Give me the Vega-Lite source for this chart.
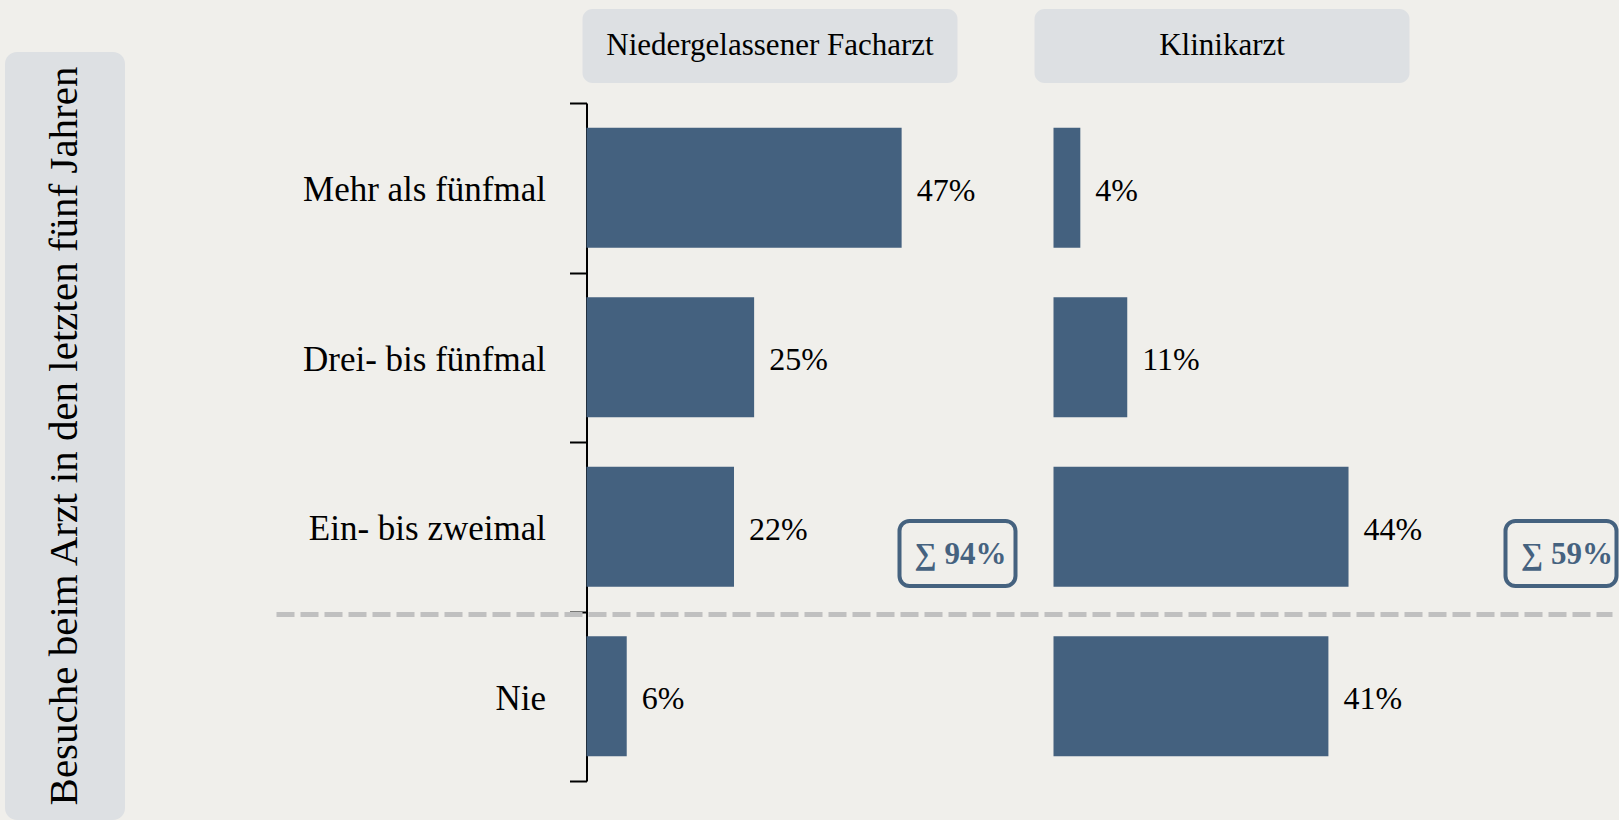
{
  "$schema": "https://vega.github.io/schema/vega-lite/v6.json",
  "background": "#f0efeb",
  "padding": {"left": 5, "top": 9, "right": 1, "bottom": 0},
  "config": {
    "view": {"stroke": null},
    "font": "Liberation Serif",
    "text": {"font": "Liberation Serif", "color": "#000000"}
  },
  "datasets": {
    "visits": [
      {"arzt": "Niedergelassener Facharzt", "cat": "Mehr als fünfmal", "pct": 0.47},
      {"arzt": "Niedergelassener Facharzt", "cat": "Drei- bis fünfmal", "pct": 0.25},
      {"arzt": "Niedergelassener Facharzt", "cat": "Ein- bis zweimal", "pct": 0.22},
      {"arzt": "Niedergelassener Facharzt", "cat": "Nie", "pct": 0.06},
      {"arzt": "Klinikarzt", "cat": "Mehr als fünfmal", "pct": 0.04},
      {"arzt": "Klinikarzt", "cat": "Drei- bis fünfmal", "pct": 0.11},
      {"arzt": "Klinikarzt", "cat": "Ein- bis zweimal", "pct": 0.44},
      {"arzt": "Klinikarzt", "cat": "Nie", "pct": 0.41}
    ]
  },
  "spacing": 148.5,
  "hconcat": [
    {
      "spacing": 20,
      "vconcat": [
        {"width": 120, "height": 23, "data": {"values": [{}]}, "mark": {"type": "text", "text": ""}},
        {
          "width": 120, "height": 768,
          "view": {"fill": "#dde0e3", "cornerRadius": 12, "stroke": null},
          "data": {"values": [{"t": "Besuche beim Arzt in den letzten fünf Jahren"}]},
          "mark": {"type": "text", "angle": 270, "fontSize": 41, "align": "center", "baseline": "middle", "color": "#000000"},
          "encoding": {"text": {"field": "t", "type": "nominal"}}
        }
      ]
    },
    {
      "spacing": 3,
      "vconcat": [
        {
          "spacing": 77,
          "hconcat": [
            {
              "width": 375, "height": 74,
              "view": {"fill": "#dde0e3", "cornerRadius": 10, "stroke": null},
              "data": {"values": [{"h": "Niedergelassener Facharzt"}]},
              "mark": {"type": "text", "fontSize": 31, "color": "#000000", "align": "center", "baseline": "middle"},
              "encoding": {"text": {"field": "h", "type": "nominal"}}
            },
            {
              "width": 375, "height": 74,
              "view": {"fill": "#dde0e3", "cornerRadius": 10, "stroke": null},
              "data": {"values": [{"h": "Klinikarzt"}]},
              "mark": {"type": "text", "fontSize": 31, "color": "#000000", "align": "center", "baseline": "middle"},
              "encoding": {"text": {"field": "h", "type": "nominal"}}
            }
          ]
        },
        {
          "width": 827, "height": 678,
          "data": {"name": "visits"},
          "resolve": {"scale": {"x": "independent"}},
          "encoding": {
            "y": {
              "field": "cat", "type": "nominal",
              "scale": {"domain": ["Mehr als fünfmal", "Drei- bis fünfmal", "Ein- bis zweimal", "Nie"], "paddingInner": 0, "paddingOuter": 0},
              "axis": {
                "title": null, "grid": false, "offset": -4,
                "domainColor": "#000000", "domainWidth": 2,
                "tickColor": "#000000", "tickWidth": 2, "tickSize": 17, "tickBand": "extent",
                "labelFont": "Liberation Serif", "labelFontSize": 35, "labelColor": "#000000",
                "labelPadding": 24, "labelLimit": 500, "labelOffset": 2
              }
            }
          },
          "layer": [
            {
              "transform": [{"filter": "datum.arzt === 'Niedergelassener Facharzt'"}],
              "layer": [
                {
                  "transform": [{"filter": "datum.cat === 'Nie'"}],
                  "mark": {"type": "rule", "color": "#c0c0c0", "strokeWidth": 5, "strokeDash": [18, 6]},
                  "encoding": {
                    "x": {"datum": -0.46234, "type": "quantitative", "axis": null},
                    "x2": {"datum": 1.5302},
                    "y": {"field": "cat", "type": "nominal", "bandPosition": 0.018}
                  }
                },
                {
                  "mark": {"type": "bar", "height": {"band": 0.708}, "color": "#44617f"},
                  "encoding": {
                    "x": {"field": "pct", "type": "quantitative", "scale": {"domain": [-0.005966, 1.227442], "nice": false, "zero": false}, "axis": null}
                  }
                },
                {
                  "mark": {"type": "text", "align": "left", "baseline": "middle", "dx": 15, "dy": 3, "fontSize": 32},
                  "encoding": {
                    "x": {"field": "pct", "type": "quantitative", "axis": null},
                    "text": {"field": "pct", "type": "quantitative", "format": ".0%"}
                  }
                },
                {
                  "transform": [
                    {"filter": "datum.cat !== 'Nie'"},
                    {"aggregate": [{"op": "sum", "field": "pct", "as": "total"}]},
                    {"calculate": "'∑ ' + format(datum.total, '.0%')", "as": "label"}
                  ],
                  "layer": [
                    {
                      "mark": {"type": "bar", "filled": false, "color": "#45627f", "strokeWidth": 4, "cornerRadius": 10, "height": {"band": 0.3835}, "yOffset": 26.75},
                      "encoding": {
                        "x": {"datum": 0.46682, "type": "quantitative", "axis": null},
                        "x2": {"datum": 0.63982},
                        "y": {"datum": "Ein- bis zweimal", "type": "nominal"}
                      }
                    },
                    {
                      "mark": {"type": "text", "fontWeight": "bold", "fontSize": 31, "color": "#45627f", "align": "center", "baseline": "middle", "dy": 28},
                      "encoding": {
                        "x": {"datum": 0.5578, "type": "quantitative", "axis": null},
                        "y": {"datum": "Ein- bis zweimal", "type": "nominal"},
                        "text": {"field": "label", "type": "nominal"}
                      }
                    }
                  ]
                }
              ]
            },
            {
              "transform": [{"filter": "datum.arzt === 'Klinikarzt'"}],
              "layer": [
                {
                  "mark": {"type": "bar", "height": {"band": 0.708}, "color": "#44617f"},
                  "encoding": {
                    "x": {"field": "pct", "type": "quantitative", "scale": {"domain": [-0.702461, 0.530947], "nice": false, "zero": false}, "axis": null}
                  }
                },
                {
                  "mark": {"type": "text", "align": "left", "baseline": "middle", "dx": 15, "dy": 3, "fontSize": 32},
                  "encoding": {
                    "x": {"field": "pct", "type": "quantitative", "axis": null},
                    "text": {"field": "pct", "type": "quantitative", "format": ".0%"}
                  }
                },
                {
                  "transform": [
                    {"filter": "datum.cat !== 'Nie'"},
                    {"aggregate": [{"op": "sum", "field": "pct", "as": "total"}]},
                    {"calculate": "'∑ ' + format(datum.total, '.0%')", "as": "label"}
                  ],
                  "layer": [
                    {
                      "mark": {"type": "bar", "filled": false, "color": "#45627f", "strokeWidth": 4, "cornerRadius": 10, "height": {"band": 0.3835}, "yOffset": 26.75},
                      "encoding": {
                        "x": {"datum": 0.67412, "type": "quantitative", "axis": null},
                        "x2": {"datum": 0.83967},
                        "y": {"datum": "Ein- bis zweimal", "type": "nominal"}
                      }
                    },
                    {
                      "mark": {"type": "text", "fontWeight": "bold", "fontSize": 31, "color": "#45627f", "align": "center", "baseline": "middle", "dy": 28},
                      "encoding": {
                        "x": {"datum": 0.76585, "type": "quantitative", "axis": null},
                        "y": {"datum": "Ein- bis zweimal", "type": "nominal"},
                        "text": {"field": "label", "type": "nominal"}
                      }
                    }
                  ]
                }
              ]
            }
          ]
        }
      ]
    }
  ]
}
